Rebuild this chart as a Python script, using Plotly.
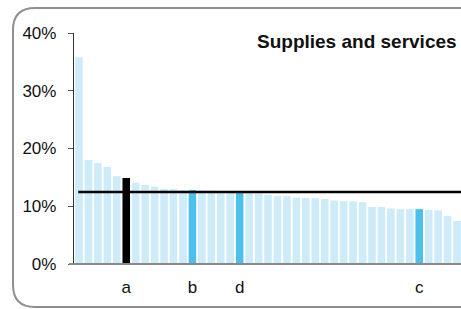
import plotly.graph_objects as go

values = [35.8, 18.0, 17.5, 16.8, 15.2, 14.9, 14.1, 13.7, 13.4, 13.0,
          13.0, 12.8, 12.8, 12.75, 12.7, 12.6, 12.5, 12.3, 12.3, 12.2,
          12.0, 11.8, 11.75, 11.5, 11.45, 11.4, 11.25, 11.0, 10.9, 10.85,
          10.7, 9.86, 9.86, 9.6, 9.5, 9.5, 9.5, 9.34, 9.29, 8.3, 7.44]
highlight_idx = [5, 12, 17, 36]
highlight_lbl = ["a", "b", "d", "c"]
average = 12.45
y_ticks = [0, 10, 20, 30, 40]
y_tick_labels = ["0%", "10%", "20%", "30%", "40%"]
title_text = "Supplies and services"

LIGHT = "#CDEBF8"
MID = "#4BC0EA"
colors = [LIGHT] * len(values)
colors[5] = "#000000"
for i in (12, 17, 36):
    colors[i] = MID

W, H = 461, 309
L, R, T, B = 74, 0, 32.5, 45
pw, ph = W - L - R, H - T - B

def px(x):
    return (x - L) / pw

def py(y):
    return (H - B - y) / ph

fig = go.Figure()
fig.add_trace(go.Bar(x=list(range(len(values))), y=values, marker_color=colors,
                     marker_line_width=0, width=0.8))

# frame (rounded rectangle, right side off-canvas)
fl, ft, fb, fr, r = 13, 7.5, 307, 480, 22
path = (f"M {px(fr)},{py(ft)} L {px(fl + r)},{py(ft)} "
        f"Q {px(fl)},{py(ft)} {px(fl)},{py(ft + r)} "
        f"L {px(fl)},{py(fb - r)} Q {px(fl)},{py(fb)} {px(fl + r)},{py(fb)} "
        f"L {px(fr)},{py(fb)}")
fig.add_shape(type="path", path=path, xref="paper", yref="paper",
              line=dict(color="#8f8f8f", width=2), layer="below")

# bottom axis line
fig.add_shape(type="line", xref="paper", yref="paper", x0=px(69), x1=px(470),
              y0=0, y1=0, line=dict(color="#8a8a8a", width=2))
# average line
fig.add_shape(type="line", xref="x", yref="y", x0=-0.08, x1=41.5,
              y0=average, y1=average, line=dict(color="#000000", width=2.5))

fig.add_annotation(text="<b>" + title_text + "</b>", xref="paper", yref="paper",
                   x=px(458.5), y=py(41.5), xanchor="right", yanchor="middle",
                   showarrow=False, font=dict(size=19, color="#111111"))

fig.update_layout(
    width=W, height=H,
    margin=dict(l=L, r=R, t=T, b=B, pad=0, autoexpand=False),
    paper_bgcolor="white", plot_bgcolor="white", showlegend=False,
    font=dict(family="Liberation Sans, Arial, sans-serif", color="#111111"),
    bargap=0.2,
)
fig.update_xaxes(range=[-0.53, 40.42], showgrid=False, zeroline=False,
                 showline=False, ticks="", tickmode="array",
                 tickvals=highlight_idx, ticktext=highlight_lbl,
                 tickfont=dict(size=17), ticklabelstandoff=11, automargin=False)
fig.update_yaxes(range=[0, 40], showgrid=False, zeroline=False,
                 showline=True, linecolor="#333333", linewidth=1.3,
                 ticks="outside", ticklen=5, tickcolor="#555555", tickwidth=1.3,
                 tickmode="array", tickvals=y_ticks, ticktext=y_tick_labels,
                 tickfont=dict(size=17), ticklabelstandoff=8, automargin=False)

fig.write_html("out.html",
               config={"displayModeBar": False},
               post_script="document.body.style.margin='0';"
                           "document.body.style.padding='0';"
                           "document.body.style.overflow='hidden';")
